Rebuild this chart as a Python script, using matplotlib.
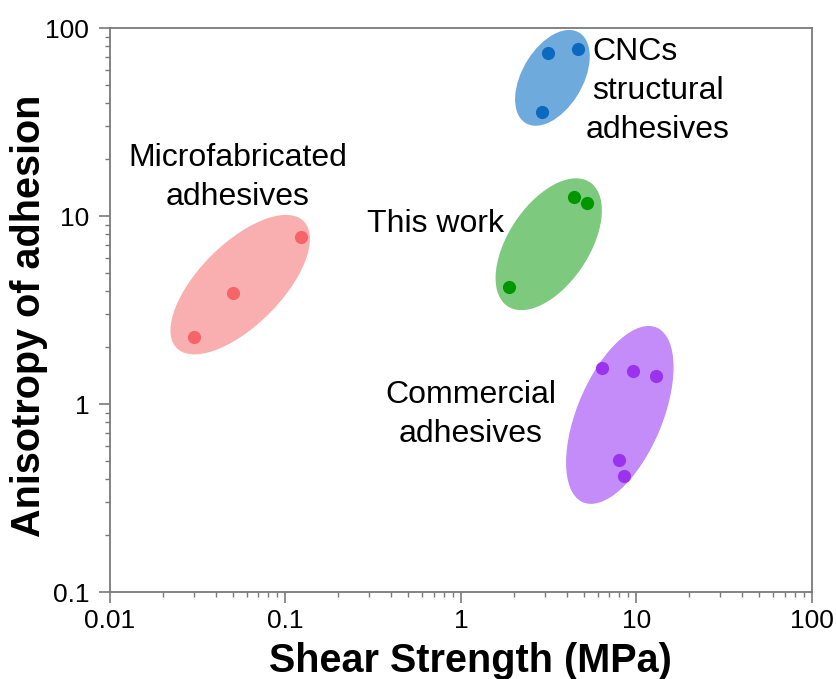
import matplotlib.pyplot as plt
from matplotlib.patches import Ellipse
from matplotlib.transforms import Affine2D
from matplotlib.ticker import LogLocator, NullFormatter, FixedLocator, FixedFormatter

plt.rcParams['font.family'] = ['Liberation Sans', 'DejaVu Sans']

# data points (shear strength MPa, anisotropy)
micro_x = [0.030, 0.050, 0.122]
micro_y = [2.27, 3.9, 7.7]
cnc_x = [3.15, 4.66, 2.91]
cnc_y = [73.5, 77.0, 35.9]
work_x = [4.42, 5.25, 1.89]
work_y = [12.6, 11.7, 4.2]
comm_x = [6.38, 9.57, 12.9, 7.98, 8.5]
comm_y = [1.55, 1.49, 1.41, 0.503, 0.414]

x_ticks = [0.01, 0.1, 1, 10, 100]
x_labels = ['0.01', '0.1', '1', '10', '100']
y_ticks = [0.1, 1, 10, 100]
y_labels = ['0.1', '1', '10', '100']

fig = plt.figure(figsize=(8.37, 6.79), dpi=100)
ax = fig.add_axes([0.1314, 0.1281, 0.8387, 0.8306])
ax.set_xscale('log')
ax.set_yscale('log')
ax.set_xlim(0.01, 100)
ax.set_ylim(0.1, 100)

# ellipses drawn in log-decade space
dec = Affine2D().scale(1 / 4, 1 / 3).translate(0.5, 1 / 3) + ax.transAxes
groups = [
    # center(log x, log y), width, height, angle, fill colour
    ((-1.258, 0.635), 0.99, 0.45, 42, '#f9afaf'),
    ((0.521, 1.735), 0.57, 0.34, 56, '#6eaadc'),
    ((0.500, 0.850), 0.81, 0.45, 53, '#7dc97d'),
    ((0.905, -0.058), 1.02, 0.48, 65, '#c38cf8'),
]
for c, w, h, a, col in groups:
    ax.add_patch(Ellipse(c, w, h, angle=a, facecolor=col, edgecolor='none',
                         transform=dec, zorder=1))

ms = 90
ax.scatter(micro_x, micro_y, s=ms, color='#f56468', zorder=3, linewidths=0)
ax.scatter(cnc_x, cnc_y, s=ms, color='#0c69be', zorder=3, linewidths=0)
ax.scatter(work_x, work_y, s=ms, color='#009600', zorder=3, linewidths=0)
ax.scatter(comm_x, comm_y, s=ms, color='#9b32f0', zorder=3, linewidths=0)

# group labels (anchored on the baseline of the last line)
fs = 23
ls = 1.4
ax.text(0.0536, 11.44, 'Microfabricated\nadhesives', ha='center', va='baseline',
        fontsize=fs, linespacing=ls)
ax.text(9.8, 67.6, 'CNCs', ha='center', va='baseline', fontsize=fs)
ax.text(13.26, 26.0, 'structural\nadhesives', ha='center', va='baseline',
        fontsize=fs, linespacing=ls)
ax.text(0.72, 8.23, 'This work', ha='center', va='baseline', fontsize=fs)
ax.text(1.14, 0.628, 'Commercial\nadhesives', ha='center', va='baseline',
        fontsize=fs, linespacing=ls)

ax.xaxis.set_major_locator(FixedLocator(x_ticks))
ax.xaxis.set_major_formatter(FixedFormatter(x_labels))
ax.yaxis.set_major_locator(FixedLocator(y_ticks))
ax.yaxis.set_major_formatter(FixedFormatter(y_labels))
ax.xaxis.set_minor_locator(LogLocator(base=10, subs=range(2, 10), numticks=20))
ax.yaxis.set_minor_locator(LogLocator(base=10, subs=range(2, 10), numticks=20))
ax.xaxis.set_minor_formatter(NullFormatter())
ax.yaxis.set_minor_formatter(NullFormatter())

gray = '#7a7a7a'
for s in ax.spines.values():
    s.set_color(gray)
    s.set_linewidth(1.3)
ax.tick_params(which='major', direction='out', length=8, width=1.2, color=gray,
               labelsize=19)
ax.tick_params(axis='x', which='major', pad=4)
ax.tick_params(axis='y', which='major', pad=7)
ax.tick_params(which='minor', direction='out', length=3.5, width=1.0, color=gray)

ax.set_xlabel('Shear Strength (MPa)', fontsize=28.5, fontweight='bold')
ax.set_ylabel('Anisotropy of adhesion', fontsize=28.5, fontweight='bold')
ax.xaxis.set_label_coords(0.513, -0.088)
ax.yaxis.set_label_coords(-0.088, 0.49)

fig.savefig('out.png', dpi=100)
